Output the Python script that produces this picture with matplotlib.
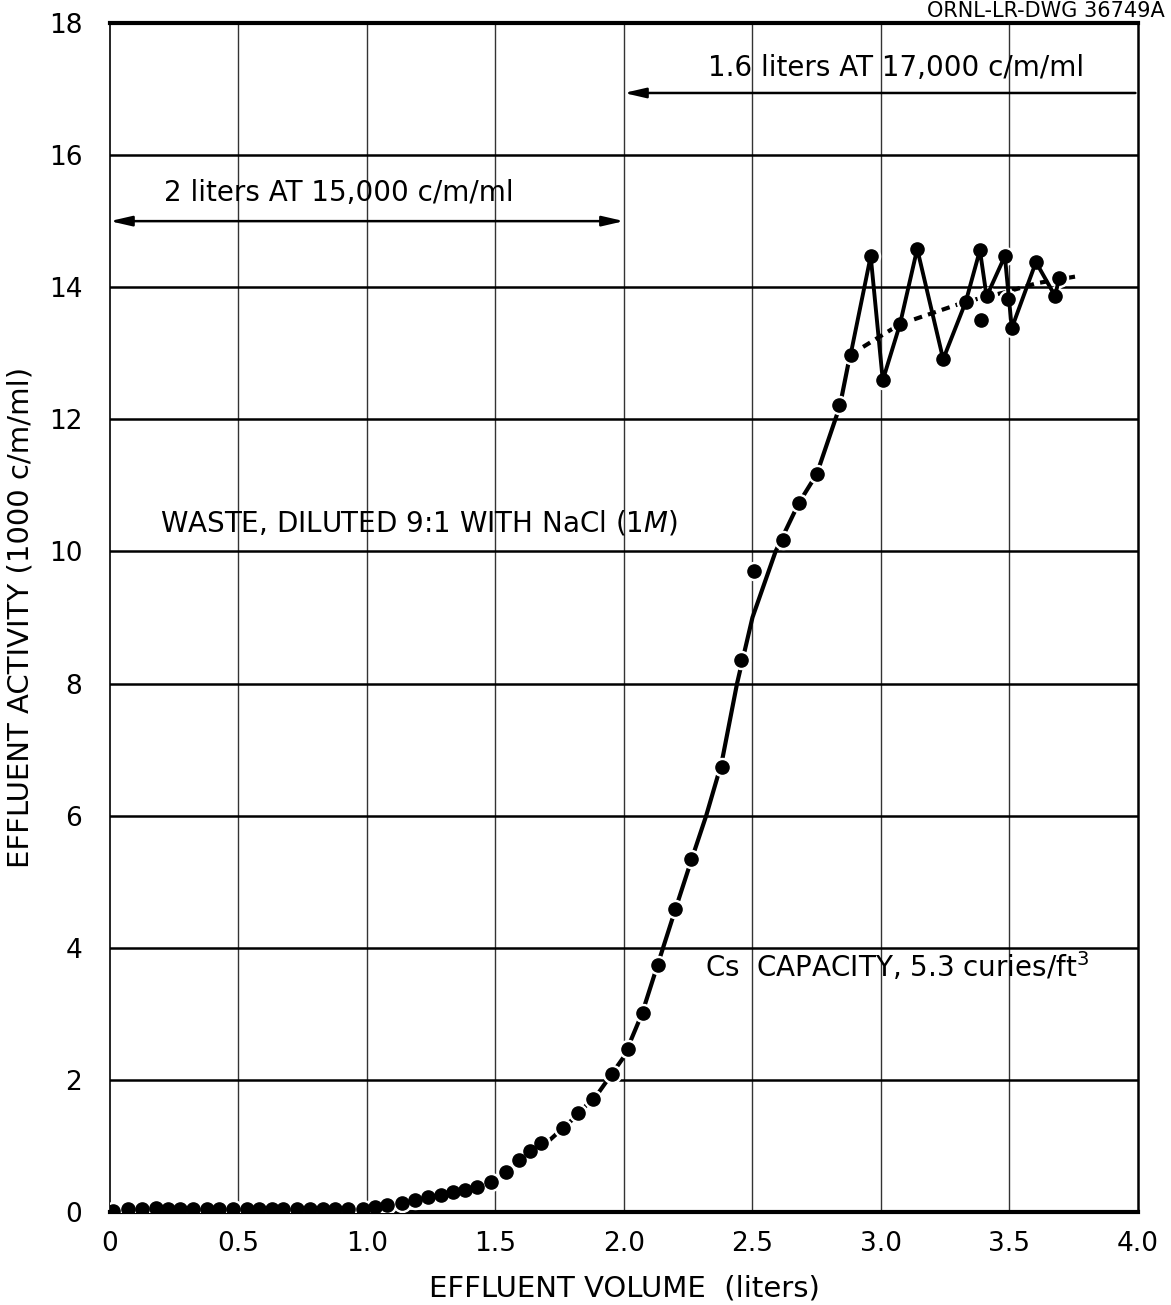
import matplotlib
matplotlib.use("Agg")
import matplotlib.pyplot as plt

# measured points (liters, 1000 c/m/ml)
vol = [0.01, 0.071, 0.123, 0.179, 0.227, 0.272, 0.324, 0.376, 0.425, 0.477,
       0.532, 0.581, 0.629, 0.674, 0.726, 0.778, 0.828, 0.875, 0.927, 0.986,
       1.031, 1.079, 1.135, 1.187, 1.239, 1.287, 1.333, 1.381, 1.429, 1.482,
       1.541, 1.593, 1.634, 1.676, 1.763, 1.82, 1.881, 1.952, 2.014, 2.073,
       2.132, 2.197, 2.26, 2.38, 2.454, 2.506, 2.62, 2.682, 2.752, 2.838,
       2.882, 2.96, 3.007, 3.074, 3.141, 3.242, 3.33, 3.385, 3.388, 3.411,
       3.482, 3.495, 3.509, 3.603, 3.677, 3.694]
act = [0.02, 0.05, 0.05, 0.06, 0.05, 0.05, 0.05, 0.05, 0.05, 0.05,
       0.04, 0.04, 0.04, 0.04, 0.04, 0.04, 0.04, 0.05, 0.05, 0.05,
       0.08, 0.11, 0.13, 0.18, 0.22, 0.26, 0.30, 0.33, 0.38, 0.46,
       0.60, 0.79, 0.93, 1.04, 1.27, 1.50, 1.71, 2.09, 2.46, 3.01,
       3.74, 4.58, 5.34, 6.74, 8.36, 9.70, 10.18, 10.73, 11.17, 12.21,
       12.98, 14.47, 12.59, 13.44, 14.58, 12.91, 13.78, 14.56, 13.51, 13.86,
       14.47, 13.82, 13.38, 14.38, 13.87, 14.14]

# smooth breakthrough curve drawn through the points
curve_x = [0.0, 0.5, 1.0, 1.2, 1.4, 1.5, 1.6, 1.7, 1.8, 1.9, 2.0, 2.07, 2.13,
           2.2, 2.26, 2.32, 2.38, 2.44, 2.5, 2.59, 2.68, 2.75, 2.84, 2.88]
curve_y = [0.03, 0.04, 0.07, 0.2, 0.37, 0.5, 0.78, 1.05, 1.4, 1.8, 2.35, 3.0,
           3.73, 4.58, 5.3, 6.0, 6.8, 8.0, 9.0, 10.0, 10.73, 11.17, 12.2, 12.98]

# dashed average curve at the top
avg_x = [2.882, 3.074, 3.33, 3.49, 3.606, 3.755]
avg_y = [12.98, 13.44, 13.78, 13.93, 14.06, 14.16]

# zigzag connecting the scattered top points
zig_x = [2.882, 2.96, 3.007, 3.074, 3.141, 3.242, 3.33, 3.385, 3.411, 3.482,
         3.509, 3.603, 3.677, 3.694]
zig_y = [12.98, 14.47, 12.59, 13.44, 14.58, 12.91, 13.78, 14.56, 13.86, 14.47,
         13.38, 14.38, 13.87, 14.14]

xticks = [0, 0.5, 1.0, 1.5, 2.0, 2.5, 3.0, 3.5, 4.0]
xlabels = ["0", "0.5", "1.0", "1.5", "2.0", "2.5", "3.0", "3.5", "4.0"]
yticks = list(range(0, 19, 2))

fig = plt.figure(figsize=(11.71, 13.05), dpi=100)
ax = fig.add_axes([0.0939, 0.0713, 0.8779, 0.9111])
ax.set_xlim(0, 4)
ax.set_ylim(0, 18)

for xv in xticks[1:-1]:
    ax.axvline(xv, color="#333333", lw=1.0, zorder=0)
for yv in yticks[1:-1]:
    ax.axhline(yv, color="black", lw=1.8, zorder=0)

ax.plot(curve_x, curve_y, color="black", lw=3, zorder=2)
ax.plot(avg_x, avg_y, color="black", lw=3, ls=(0, (2, 1.5)), zorder=2)
ax.plot(vol, act, "o", color="white", ms=13, zorder=3)
ax.plot(zig_x, zig_y, color="black", lw=2.8, zorder=4)
ax.plot(vol, act, "o", color="black", ms=9.5, zorder=5)

for side, w in [("left", 1.2), ("right", 1.8), ("top", 3.0), ("bottom", 3.0)]:
    ax.spines[side].set_linewidth(w)

ax.set_xticks(xticks)
ax.set_xticklabels(xlabels)
ax.set_yticks(yticks)
ax.tick_params(length=0, labelsize=19, pad=14)
ax.tick_params(axis="y", pad=20)

ax.set_xlabel("EFFLUENT VOLUME  (liters)", fontsize=21, labelpad=12)
ax.set_ylabel("EFFLUENT ACTIVITY (1000 c/m/ml)", fontsize=21, labelpad=10)

ax.annotate("", xy=(2.0, 16.94), xytext=(3.99, 16.94),
            arrowprops=dict(arrowstyle="-|>,head_length=1.3,head_width=0.3",
                            color="black", lw=1.8, shrinkA=0, shrinkB=0))
ax.text(3.06, 17.32, "1.6 liters AT 17,000 c/m/ml", fontsize=20,
        ha="center", va="center")

ax.annotate("", xy=(2.0, 15.0), xytext=(0.0, 15.0),
            arrowprops=dict(arrowstyle="<|-|>,head_length=1.3,head_width=0.3",
                            color="black", lw=1.8, shrinkA=0, shrinkB=0))
ax.text(0.89, 15.42, "2 liters AT 15,000 c/m/ml", fontsize=20,
        ha="center", va="center")

ax.text(0.195, 10.43, r"WASTE, DILUTED 9:1 WITH NaCl (1$\mathit{M}$)",
        fontsize=20, ha="left", va="center")
ax.text(2.315, 3.72, r"Cs  CAPACITY, 5.3 curies/ft$^{3}$", fontsize=20,
        ha="left", va="center")

fig.text(0.995, 0.999, "ORNL-LR-DWG 36749A", fontsize=15, ha="right",
         va="top")

fig.savefig("out.png", dpi=100, facecolor="white")
